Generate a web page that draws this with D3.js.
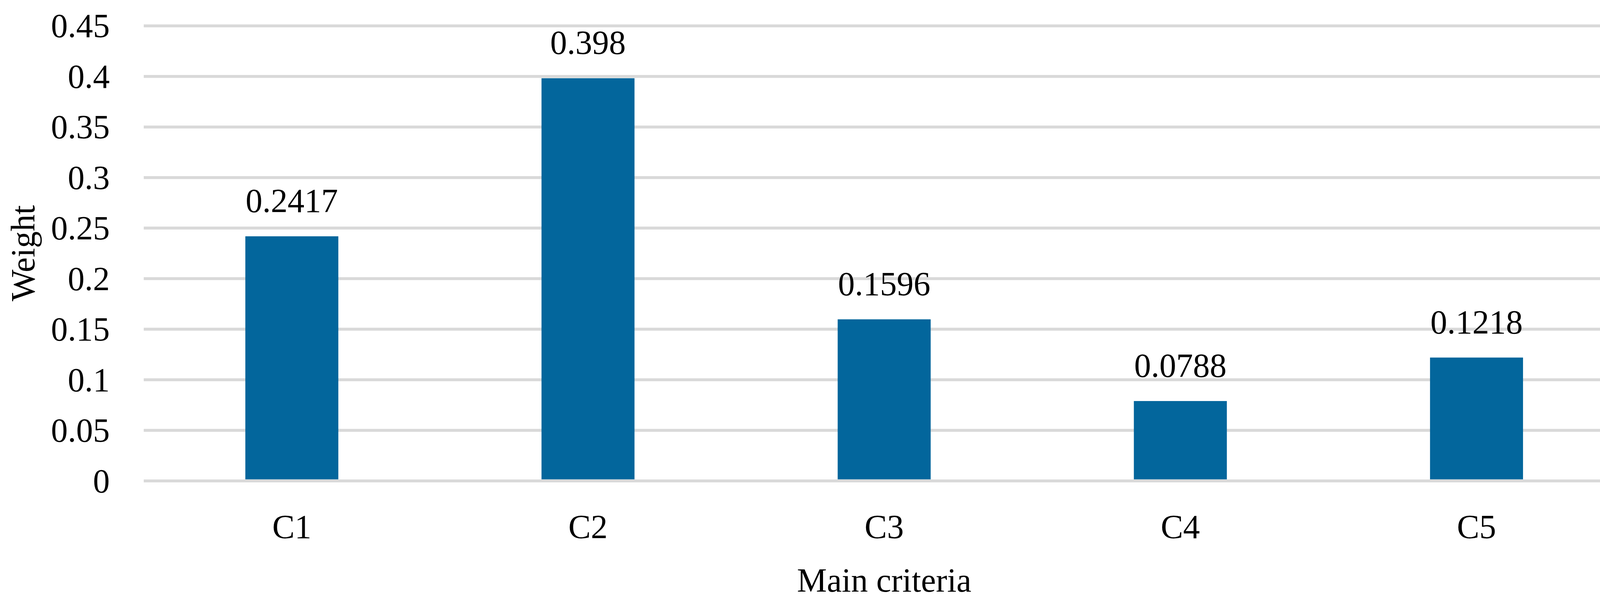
<!DOCTYPE html>
<html>
<head>
<meta charset="utf-8">
<script src="https://cdn.jsdelivr.net/npm/d3@7"></script>
<style>
  body { margin: 0; background: #fff; }
  text { font-family: "Palatino Linotype", "Book Antiqua", Palatino, "Liberation Serif", serif; fill: #000; }
</style>
</head>
<body>
<div id="chart"></div>
<script>
// data
var categories = ["C1", "C2", "C3", "C4", "C5"];
var weights = [0.2417, 0.398, 0.1596, 0.0788, 0.1218];
var valueLabels = ["0.2417", "0.398", "0.1596", "0.0788", "0.1218"];
var yTicks = [0, 0.05, 0.1, 0.15, 0.2, 0.25, 0.3, 0.35, 0.4, 0.45];
var yTickLabels = ["0", "0.05", "0.1", "0.15", "0.2", "0.25", "0.3", "0.35", "0.4", "0.45"];

var W = 4188, H = 1539;
var margin = {top: 65.7, right: 29, bottom: 308, left: 368};
var width = W - margin.left - margin.right;
var height = H - margin.top - margin.bottom;
var fontSize = 86;

var svg = d3.select("#chart")
    .append("svg")
    .attr("width", W)
    .attr("height", H);

var g = svg.append("g")
    .attr("transform", "translate(" + margin.left + "," + margin.top + ")");

var x = d3.scaleBand()
    .domain(categories)
    .range([0, width])
    .paddingInner(0.686)
    .paddingOuter(0.343);

var y = d3.scaleLinear()
    .domain([0, 0.45])
    .range([height, 0]);

// gridlines + y tick labels
var yAxis = g.append("g")
    .call(d3.axisLeft(y)
        .tickValues(yTicks)
        .tickSize(-width)
        .tickPadding(87)
        .tickFormat(function (d, i) { return yTickLabels[i]; }));
yAxis.select(".domain").remove();
yAxis.selectAll("line")
    .attr("stroke", "#d9d9d9")
    .attr("stroke-width", 7.5);
yAxis.selectAll("text")
    .style("font-size", fontSize + "px")
    .attr("dy", "0.34em");

// bars
g.selectAll(".bar")
    .data(weights)
    .enter()
    .append("rect")
    .attr("class", "bar")
    .attr("x", function (d, i) { return x(categories[i]); })
    .attr("width", x.bandwidth())
    .attr("y", function (d) { return y(d); })
    .attr("height", function (d) { return y(0) - y(d) - 3.5; })
    .attr("fill", "#03669c");

// value labels
g.selectAll(".val")
    .data(weights)
    .enter()
    .append("text")
    .attr("class", "val")
    .attr("x", function (d, i) { return x(categories[i]) + x.bandwidth() / 2; })
    .attr("y", function (d) { return y(d) - 62; })
    .attr("text-anchor", "middle")
    .style("font-size", fontSize + "px")
    .text(function (d, i) { return valueLabels[i]; });

// x axis labels
var xAxis = g.append("g")
    .attr("transform", "translate(0," + height + ")")
    .call(d3.axisBottom(x).tickSize(0));
xAxis.select(".domain").remove();
xAxis.selectAll("text")
    .attr("dy", null)
    .attr("y", 147)
    .style("font-size", fontSize + "px");

// axis titles
g.append("text")
    .attr("x", width / 2)
    .attr("y", height + 284)
    .attr("text-anchor", "middle")
    .style("font-size", fontSize + "px")
    .text("Main criteria");

svg.append("text")
    .attr("transform", "translate(88," + (margin.top + height / 2) + ") rotate(-90)")
    .attr("text-anchor", "middle")
    .style("font-size", fontSize + "px")
    .text("Weight");
</script>
</body>
</html>
